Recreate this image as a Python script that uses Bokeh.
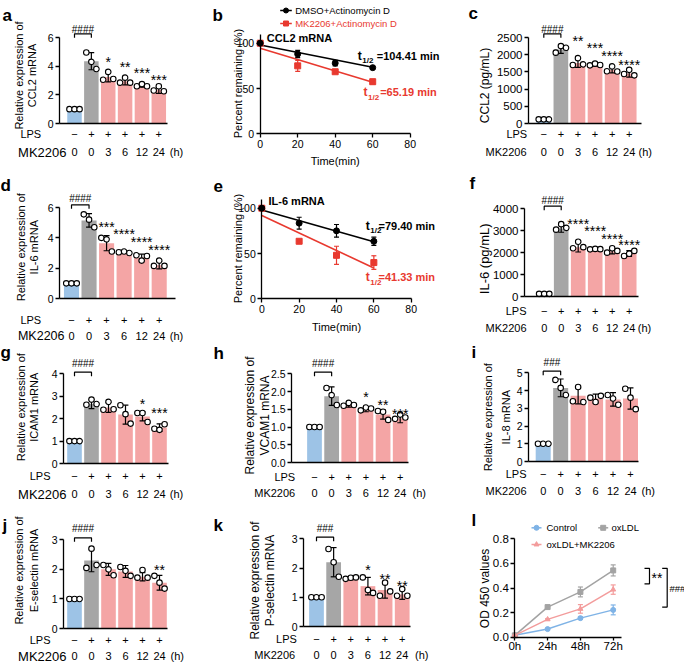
import math
from bokeh.plotting import figure
from bokeh.layouts import column, row
from bokeh.models import Label, Range1d, NumeralTickFormatter
from bokeh.embed import file_html
from bokeh.resources import INLINE

FONT = "Liberation Sans"

# ======================= DATA =======================
mk2206_hours = ["0", "0", "3", "6", "12", "24"]
lps_marks = ["\u2212", "+", "+", "+", "+", "+"]

# a  CCL2 mRNA
a_mean = [1.00, 4.35, 3.25, 2.95, 2.65, 2.35]
a_sd = [0.02, 0.60, 0.35, 0.25, 0.12, 0.25]
a_pts = [[1.0, 1.0, 1.0], [4.95, 4.30, 3.80], [3.05, 3.60, 3.10], [2.85, 3.20, 2.85], [2.60, 2.75, 2.60], [2.30, 2.60, 2.25]]
a_sig = ["", "", "*", "**", "***", "***"]
a_hash = "####"
a_yticks = [0, 2, 4, 6]

# c  CCL2 protein
c_mean = [120, 2150, 1760, 1710, 1560, 1450]
c_sd = [10, 110, 130, 40, 90, 100]
c_pts = [[120, 120, 120], [2060, 2250, 2200], [1700, 1900, 1720], [1690, 1740, 1700], [1520, 1660, 1510], [1440, 1560, 1400]]
c_sig = ["", "", "**", "***", "****", "****"]
c_hash = "####"
c_yticks = [0, 500, 1000, 1500, 2000, 2500]

# d  IL-6 mRNA
d_mean = [1.00, 5.15, 3.65, 3.05, 2.70, 2.20]
d_sd = [0.02, 0.45, 0.50, 0.08, 0.22, 0.25]
d_pts = [[1.0, 1.0, 1.0], [5.55, 5.20, 4.70], [4.00, 3.90, 3.10], [3.05, 3.10, 3.00], [2.85, 2.50, 2.80], [2.15, 2.50, 2.15]]
d_sig = ["", "", "***", "****", "****", "****"]
d_hash = "####"
d_yticks = [0, 2, 4, 6]

# f  IL-6 protein
f_mean = [120, 3100, 2250, 2160, 2060, 1960]
f_sd = [15, 170, 220, 25, 120, 130]
f_pts = [[120, 120, 120], [3050, 3300, 3130], [2200, 2500, 2250], [2150, 2170, 2160], [2000, 2200, 2080], [1850, 1950, 2080]]
f_sig = ["", "", "****", "****", "****", "****"]
f_hash = "####"
f_yticks = [0, 1000, 2000, 3000, 4000]

# g  ICAM1 mRNA
g_mean = [1.00, 2.65, 2.50, 2.18, 2.10, 1.60]
g_sd = [0.02, 0.20, 0.22, 0.42, 0.20, 0.17]
g_pts = [[1.0, 1.0, 1.0], [2.62, 2.85, 2.65], [2.40, 2.75, 2.42], [2.60, 2.20, 1.78], [2.25, 2.25, 1.85], [1.55, 1.50, 1.75]]
g_sig = ["", "", "", "", "*", "***"]
g_hash = "####"
g_yticks = [0, 1, 2, 3, 4]

# h  VCAM1 mRNA
h_mean = [1.00, 1.87, 1.62, 1.50, 1.35, 1.25]
h_sd = [0.01, 0.26, 0.06, 0.07, 0.13, 0.13]
h_pts = [[1.0, 1.0, 1.0], [2.10, 1.90, 1.62], [1.60, 1.68, 1.62], [1.47, 1.55, 1.52], [1.45, 1.43, 1.20], [1.23, 1.35, 1.27]]
h_sig = ["", "", "", "*", "**", "***"]
h_hash = "####"
h_yticks = [0.0, 0.5, 1.0, 1.5, 2.0, 2.5]

# i  IL-8 mRNA
i_mean = [1.00, 4.15, 3.70, 3.55, 3.50, 3.55]
i_sd = [0.02, 0.50, 0.45, 0.25, 0.38, 0.60]
i_pts = [[1.0, 1.0, 1.0], [4.60, 4.15, 3.75], [3.40, 4.20, 3.35], [3.60, 3.35, 3.70], [3.75, 3.55, 3.20], [4.10, 3.60, 2.95]]
i_sig = ["", "", "", "", "", ""]
i_hash = "###"
i_yticks = [0, 1, 2, 3, 4, 5]

# j  E-selectin mRNA
j_mean = [1.00, 2.30, 2.00, 1.93, 1.75, 1.55]
j_sd = [0.01, 0.38, 0.20, 0.20, 0.14, 0.25]
j_pts = [[1.0, 1.0, 1.0], [2.05, 2.70, 2.15], [2.15, 2.00, 1.80], [2.08, 1.95, 1.78], [1.72, 1.98, 1.72], [1.78, 1.55, 1.35]]
j_sig = ["", "", "", "", "", "**"]
j_hash = "####"
j_yticks = [0, 1, 2, 3]

# k  P-selectin mRNA
k_mean = [1.00, 2.20, 1.65, 1.38, 1.25, 1.10]
k_sd = [0.01, 0.50, 0.05, 0.30, 0.28, 0.17]
k_pts = [[1.0, 1.0, 1.0], [2.65, 2.20, 1.70], [1.63, 1.67, 1.68], [1.68, 1.25, 1.15], [1.05, 1.50, 1.20], [1.05, 1.28, 1.05]]
k_sig = ["", "", "", "*", "**", "**"]
k_hash = "###"
k_yticks = [0, 1, 2, 3]

# b / e  mRNA decay
decay_time = [0, 20, 40, 60]
fit_time = [0, 60]
b_dmso = [100, 88, 78, 73]
b_dmso_err = [0, 4, 3, 1.5]
b_mk = [100, 75, 68.5, 57.5]
b_mk_err = [0, 6, 1.5, 2.5]
b_dmso_fit = [98, 73.5]
b_mk_fit = [94.5, 57]
b_half = ["104.41", "65.19"]
e_dmso = [100, 83.5, 75, 63.5]
e_dmso_err = [0, 6.5, 7, 4.5]
e_mk = [100, 63.5, 48, 40]
e_mk_err = [0, 0, 10, 7.5]
e_dmso_fit = [98, 63]
e_mk_fit = [92, 34]
e_half = ["79.40", "41.33"]

# l  OD450
od_time = [0, 24, 48, 72]
od_tick_labels = ["0h", "24h", "48h", "72h"]
od_control = [0.015, 0.066, 0.155, 0.222]
od_control_err = [0.003, 0.006, 0.010, 0.040]
od_oxldl = [0.015, 0.245, 0.368, 0.543]
od_oxldl_err = [0.003, 0.008, 0.040, 0.045]
od_mk = [0.015, 0.145, 0.230, 0.387]
od_mk_err = [0.003, 0.006, 0.035, 0.038]

# ======================= STYLE / LAYOUT =======================
BAR_COLORS = ["#9dc3e6", "#a6a6a6", "#f4a5a5", "#f4a5a5", "#f4a5a5", "#f4a5a5"]
RED = "#e8392f"
C_BLUE = "#7fb3e6"
C_GRAY = "#a3a3a3"
C_PINK = "#f39c9c"

COLS = [(0, 208), (208, 254), (462, 222)]
ROWS = [(0, 170), (170, 172), (342, 160), (502, 160)]


def txt(p, x, y, s, fs="11px", align="center", base="middle", bold=False, color="black", angle=0.0):
    p.add_layout(Label(x=x, y=y, text=s, text_font=FONT, text_font_size=fs, text_align=align,
                       text_baseline=base, text_font_style="bold" if bold else "normal",
                       text_color=color, angle=angle))


def style_axes(p, fs):
    for ax in (p.xaxis[0], p.yaxis[0]):
        ax.axis_line_width = 1.3
        ax.axis_line_color = "black"
        ax.major_tick_line_width = 1.3
        ax.major_tick_line_color = "black"
        ax.major_tick_out = 4
        ax.major_tick_in = 0
        ax.minor_tick_line_color = None
        ax.major_label_text_font = FONT
        ax.major_label_text_font_size = fs
        ax.major_label_text_color = "black"
        ax.major_label_standoff = 2


def make_fig(col, rw, ax_px, ay_px, ppx, ppy):
    """Whole canvas is the frame; (ax_px, ay_px) is the page pixel of data (0, 0)."""
    cx, cw = COLS[col]
    ry, rh = ROWS[rw]
    X = lambda px: (px - ax_px) / ppx
    Y = lambda py: (ay_px - py) / ppy
    p = figure(width=cw, height=rh, x_range=Range1d(X(cx), X(cx + cw)), y_range=Range1d(Y(ry + rh), Y(ry)),
               min_border=0, output_backend="svg", toolbar_location=None, tools="")
    p.xgrid.visible = False
    p.ygrid.visible = False
    p.outline_line_color = None
    return p, X, Y


def legend_entry(p, X, Y, x0, x1, cy, tx, label, colr, marker, tcolor, fs="9.5px", msize=5.5):
    p.line(x=[X(x0), X(x1)], y=[Y(cy), Y(cy)], line_color=colr, line_width=1.5)
    p.scatter(x=[X((x0 + x1) / 2)], y=[Y(cy)], marker=marker, size=msize, fill_color=colr, line_color=colr)
    txt(p, X(tx), Y(cy), label, fs=fs, align="left", color=tcolor)


def bar_panel(Lo, letter, mean, sd, pts, sig, hash_txt, yticks, ylabel, tick_fs, fmt=None):
    sp = (Lo["c5"] - Lo["c0"]) / 5.0
    ppy = (Lo["y0"] - Lo["yt"]) / yticks[-1]
    p, X, Y = make_fig(Lo["col"], Lo["row"], Lo["c0"], Lo["y0"], sp, ppy)
    cats = list(range(len(mean)))
    p.vbar(x=cats, top=mean, width=0.86, fill_color=BAR_COLORS, line_color=None)
    lo = [m - s for m, s in zip(mean, sd)]
    hi = [m + s for m, s in zip(mean, sd)]
    cw = 0.17
    p.segment(x0=cats, y0=lo, x1=cats, y1=hi, line_color="black", line_width=1.2)
    p.segment(x0=[c - cw for c in cats], y0=hi, x1=[c + cw for c in cats], y1=hi, line_color="black", line_width=1.2)
    p.segment(x0=[c - cw for c in cats], y0=lo, x1=[c + cw for c in cats], y1=lo, line_color="black", line_width=1.2)
    px_, py_ = [], []
    for c, trio in zip(cats, pts):
        for off, v in zip((-0.3, 0.0, 0.3), trio):
            px_.append(c + off)
            py_.append(v)
    p.scatter(px_, py_, marker="circle", size=5.5, fill_color="white", line_color="black", line_width=1.1)
    style_axes(p, tick_fs)
    p.xaxis.ticker = []
    p.xaxis.fixed_location = 0
    p.xaxis.bounds = (X(Lo["fl"]), X(Lo["fr"]))
    p.yaxis.ticker = yticks
    p.yaxis.fixed_location = X(Lo["fl"])
    p.yaxis.bounds = (0, yticks[-1])
    if fmt:
        p.yaxis.formatter = NumeralTickFormatter(format=fmt)
    for c, s, sy in zip(cats, sig, Lo["sig_y"]):
        if s and sy is not None:
            txt(p, c, Y(sy + 3), s, fs="14px")
    b = Lo["brk"]
    p.line(x=[0, 0, 1, 1], y=[Y(b + 4), Y(b), Y(b), Y(b + 4)], line_color="black", line_width=1.2)
    txt(p, 0.5, Y(Lo["hsh"]), hash_txt, fs="10px")
    for c in cats:
        txt(p, c, Y(Lo["y0"] + Lo["lps_dy"]), lps_marks[c], fs="11px")
        txt(p, c, Y(Lo["y0"] + Lo["mk_dy"]), mk2206_hours[c], fs="11px")
    txt(p, X(Lo["lps_r"]), Y(Lo["y0"] + Lo["lps_dy"]), "LPS", fs="11px", align="right")
    txt(p, X(Lo["mk_r"]), Y(Lo["y0"] + Lo["mk_dy"]), "MK2206", fs=Lo["mk_fs"], align="right")
    txt(p, X(Lo["hx"]), Y(Lo["y0"] + Lo["mk_dy"]), "(h)", fs="11px")
    for line, lx in zip(ylabel, Lo["ylx"]):
        txt(p, X(lx), Y(Lo["yly"]), line, fs=Lo["yls"], angle=math.pi / 2)
    txt(p, X(Lo["let"][0]), Y(Lo["let"][1]), letter, fs="17px", align="left", base="alphabetic", bold=True)
    return p


def decay_panel(Lo, letter, dm, dm_err, mk, mk_err, dm_fit, mk_fit, halves, gene, legend):
    ppx = (Lo["x80"] - Lo["ax"]) / 80.0
    ppy = (Lo["y0"] - Lo["y100"]) / 100.0
    p, X, Y = make_fig(Lo["col"], Lo["row"], Lo["ax"], Lo["y0"], ppx, ppy)
    capw = 2.5 / ppx
    p.line(fit_time, dm_fit, line_color="black", line_width=1.6)
    p.line(fit_time, mk_fit, line_color=RED, line_width=1.6)
    for vals, errs, colr in ((dm, dm_err, "black"), (mk, mk_err, RED)):
        lo = [v - e for v, e in zip(vals, errs)]
        hi = [v + e for v, e in zip(vals, errs)]
        p.segment(x0=decay_time, y0=lo, x1=decay_time, y1=hi, line_color=colr, line_width=1.2)
        p.segment(x0=[t - capw for t in decay_time], y0=hi, x1=[t + capw for t in decay_time], y1=hi, line_color=colr, line_width=1.2)
        p.segment(x0=[t - capw for t in decay_time], y0=lo, x1=[t + capw for t in decay_time], y1=lo, line_color=colr, line_width=1.2)
    p.scatter(decay_time, mk, marker="square", size=6, fill_color=RED, line_color=RED)
    p.scatter(decay_time, dm, marker="circle", size=6, fill_color="black", line_color="black")
    style_axes(p, "10.5px")
    p.xaxis.ticker = [0, 20, 40, 60, 80]
    p.xaxis.fixed_location = 0
    p.xaxis.bounds = (0, 80)
    p.yaxis.ticker = [0, 50, 100]
    p.yaxis.fixed_location = 0
    p.yaxis.bounds = (0, 110)
    txt(p, 40, Y(Lo["y0"] + Lo["time_dy"]), "Time(min)", fs="11px")
    txt(p, X(Lo["ylx"]), Y(Lo["yly"]), "Percent remaining (%)", fs="11px", angle=math.pi / 2)
    txt(p, X(Lo["title"][0]), Y(Lo["title"][1]), gene, fs="11px", align="left", bold=True)
    for (tx, ex, cy), val, colr in zip((Lo["th_black"], Lo["th_red"]), halves, ("black", RED)):
        txt(p, X(tx), Y(cy), "t", fs="12px", align="left", bold=True, color=colr)
        txt(p, X(tx + 4.5), Y(cy + 5), "1/2", fs="8px", align="left", bold=True, color=colr)
        txt(p, X(ex), Y(cy), "=" + val + " min", fs="11px", align="left", bold=True, color=colr)
    txt(p, X(Lo["let"][0]), Y(Lo["let"][1]), letter, fs="17px", align="left", base="alphabetic", bold=True)
    if legend:
        (x0, x1, tx, cy1), (_, _, _, cy2) = Lo["leg"]
        legend_entry(p, X, Y, x0, x1, cy1, tx, "DMSO+Actinomycin D", "black", "circle", "black", msize=5)
        legend_entry(p, X, Y, x0, x1, cy2, tx, "MK2206+Actinomycin D", RED, "square", RED, msize=5)
    return p


def od_panel(Lo, letter):
    ppx = (Lo["x72"] - Lo["ax"]) / 72.0
    ppy = (Lo["y0"] - Lo["y08"]) / 0.8
    p, X, Y = make_fig(Lo["col"], Lo["row"], Lo["ax"], Lo["y0"], ppx, ppy)
    capw = 2.5 / ppx
    series = ((od_control, od_control_err, C_BLUE, "circle"),
              (od_oxldl, od_oxldl_err, C_GRAY, "square"),
              (od_mk, od_mk_err, C_PINK, "triangle"))
    for vals, errs, colr, mark in series:
        p.line(od_time, vals, line_color=colr, line_width=1.5)
        lo = [v - e for v, e in zip(vals, errs)]
        hi = [v + e for v, e in zip(vals, errs)]
        p.segment(x0=od_time, y0=lo, x1=od_time, y1=hi, line_color=colr, line_width=1.2)
        p.segment(x0=[t - capw for t in od_time], y0=hi, x1=[t + capw for t in od_time], y1=hi, line_color=colr, line_width=1.2)
        p.segment(x0=[t - capw for t in od_time], y0=lo, x1=[t + capw for t in od_time], y1=lo, line_color=colr, line_width=1.2)
        p.scatter(od_time, vals, marker=mark, size=5, fill_color=colr, line_color=colr)
    style_axes(p, "11.5px")
    p.xaxis.ticker = od_time
    p.xaxis.major_label_overrides = {t: s for t, s in zip(od_time, od_tick_labels)}
    p.xaxis.fixed_location = 0
    p.xaxis.bounds = (0, 78)
    p.xaxis.major_tick_out = 3
    p.xaxis.major_label_standoff = 0
    p.yaxis.ticker = [0, 0.2, 0.4, 0.6, 0.8]
    p.yaxis.formatter = NumeralTickFormatter(format="0.0")
    p.yaxis.fixed_location = 0
    p.yaxis.bounds = (0, 0.8)
    for bx, top, bot in Lo["brackets"]:
        p.line(x=[X(bx - 5), X(bx), X(bx), X(bx - 5)], y=[top, top, bot, bot], line_color="black", line_width=1.2)
    txt(p, X(Lo["stars"][0]), Lo["stars"][1], "**", fs="14px", align="left")
    txt(p, X(Lo["hash"][0]), Lo["hash"][1], "###", fs="9.5px", align="left")
    txt(p, X(Lo["ylx"]), Y(Lo["yly"]), "OD 450 values", fs="12px", angle=math.pi / 2)
    txt(p, X(Lo["let"][0]), Y(Lo["let"][1]), letter, fs="17px", align="left", base="alphabetic", bold=True)
    for (vals, errs, colr, mark), lab, (x0, x1, tx, cy) in zip(series, ("Control", "oxLDL", "oxLDL+MK2206"), Lo["leg"]):
        legend_entry(p, X, Y, x0, x1, cy, tx, lab, colr, mark, "black", msize=5)
    return p


LA = dict(col=0, row=0, fl=59, fr=167, y0=123, yt=37, c0=74, c5=158.3, ylx=[18.3, 31.7], yly=75, yls="11px",
          lps_dy=10, mk_dy=28.7, lps_r=40.7, mk_r=66, mk_fs="13px", hx=176, let=(2, 15), brk=33.3, hsh=28.7,
          sig_y=[None, None, 58.3, 63.3, 69.3, 76])
LC = dict(col=2, row=0, fl=528, fr=641, y0=123, yt=37, c0=543.3, c5=628.7, ylx=[484.3], yly=85, yls="12px",
          lps_dy=10, mk_dy=28.4, lps_r=526.7, mk_r=526, mk_fs="11px", hx=644.7, let=(468, 13.3), brk=33.3, hsh=29,
          sig_y=[None, None, 37.3, 44.3, 52.7, 61])
LD = dict(col=0, row=1, fl=59, fr=175, y0=298, yt=207, c0=71, c5=158.7, ylx=[20, 33.3], yly=246.7, yls="11px",
          lps_dy=21, mk_dy=37.5, lps_r=40.7, mk_r=64, mk_fs="12.5px", hx=176, let=(0, 185), brk=204.3, hsh=198.3,
          sig_y=[None, None, 223.3, 230.7, 238.3, 246])
LF = dict(col=2, row=1, fl=524, fr=638, y0=296, yt=208.3, c0=543.7, c5=628.7, ylx=[484.3], yly=258.3, yls="13px",
          lps_dy=14.3, mk_dy=31.7, lps_r=526, mk_r=526, mk_fs="11px", hx=644, let=(469, 183.3), brk=205.7, hsh=200,
          sig_y=[None, None, 220, 227.7, 235, 241])
LG = dict(col=0, row=2, fl=63, fr=168.3, y0=463, yt=373.3, c0=74, c5=159, ylx=[20, 33.3], yly=406.7, yls="11px",
          lps_dy=12.3, mk_dy=30.7, lps_r=50, mk_r=66, mk_fs="13px", hx=176, let=(0, 352), brk=371.7, hsh=363.3,
          sig_y=[None, None, None, None, 400, 409])
LH = dict(col=1, row=2, fl=291, fr=408, y0=462, yt=373.3, c0=314, c5=399.7, ylx=[249.7, 264.7], yly=415, yls="12px",
          lps_dy=14, mk_dy=30.7, lps_r=294.7, mk_r=294.7, mk_fs="11px", hx=418.7, let=(213, 352.7), brk=371.7, hsh=363.3,
          sig_y=[None, None, None, 393.3, 401.7, 410])
LI = dict(col=2, row=2, fl=528, fr=637.7, y0=461, yt=372.3, c0=542.7, c5=630, ylx=[487.7, 505.3], yly=416.7, yls="11px",
          lps_dy=12, mk_dy=29.3, lps_r=526, mk_r=526, mk_fs="11px", hx=647.7, let=(471, 351.7), brk=370.7, hsh=361.7,
          sig_y=[None] * 6)
LJ = dict(col=0, row=3, fl=63, fr=166.7, y0=628, yt=539.3, c0=74, c5=159, ylx=[18.3, 33.3], yly=570, yls="11px",
          lps_dy=11.3, mk_dy=27.5, lps_r=50, mk_r=66, mk_fs="13px", hx=176.7, let=(2, 525), brk=537.3, hsh=528.3,
          sig_y=[None, None, None, None, None, 566.7])
LK = dict(col=1, row=3, fl=303, fr=409.7, y0=626, yt=538.3, c0=316, c5=401.7, ylx=[254.7, 269.7], yly=580, yls="12px",
          lps_dy=12, mk_dy=28.5, lps_r=296.3, mk_r=294.7, mk_fs="11px", hx=421.3, let=(213, 525), brk=536.7, hsh=528.3,
          sig_y=[None, None, None, 566.7, 575, 582.3])
LB = dict(col=1, row=0, ax=259.7, x80=409.7, y0=133.3, y100=42.7, ylx=237, yly=83, time_dy=27,
          title=(266.3, 37.3), th_black=(357.3, 376.3, 55), th_red=(363, 379.7, 91.7), let=(212, 15),
          leg=[(279.7, 291.3, 294.7, 10), (279.7, 291.3, 294.7, 23)])
LE = dict(col=1, row=1, ax=261.3, x80=410.7, y0=298.3, y100=207.7, ylx=237, yly=248, time_dy=28.4,
          title=(268, 200), th_black=(365.3, 378, 225), th_red=(365.3, 378, 276.7), let=(213, 185))
LL = dict(col=2, row=3, ax=514.3, x72=612.7, y0=636.7, y08=538.3, ylx=484.3, yly=588, let=(471, 520),
          brackets=[(649, 0.56, 0.434), (666.7, 0.56, 0.245)], stars=(651, 0.485), hash=(669, 0.40),
          leg=[(531, 541, 546, 527.3), (597.7, 607.7, 611, 527.3), (531, 541, 546, 544)])

pa = bar_panel(LA, "a", a_mean, a_sd, a_pts, a_sig, a_hash, a_yticks, ["Relative expression of", "CCL2 mRNA"], "10.5px")
pb = decay_panel(LB, "b", b_dmso, b_dmso_err, b_mk, b_mk_err, b_dmso_fit, b_mk_fit, b_half, "CCL2 mRNA", True)
pc = bar_panel(LC, "c", c_mean, c_sd, c_pts, c_sig, c_hash, c_yticks, ["CCL2 (pg/mL)"], "11.5px")
pd = bar_panel(LD, "d", d_mean, d_sd, d_pts, d_sig, d_hash, d_yticks, ["Relative expression of", "IL-6 mRNA"], "10.5px")
pe = decay_panel(LE, "e", e_dmso, e_dmso_err, e_mk, e_mk_err, e_dmso_fit, e_mk_fit, e_half, "IL-6 mRNA", False)
pf = bar_panel(LF, "f", f_mean, f_sd, f_pts, f_sig, f_hash, f_yticks, ["IL-6 (pg/mL)"], "11.5px")
pg = bar_panel(LG, "g", g_mean, g_sd, g_pts, g_sig, g_hash, g_yticks, ["Relative expression of", "ICAM1 mRNA"], "10.5px")
ph = bar_panel(LH, "h", h_mean, h_sd, h_pts, h_sig, h_hash, h_yticks, ["Relative expression of", "VCAM1 mRNA"], "10.5px", fmt="0.0")
pi_ = bar_panel(LI, "i", i_mean, i_sd, i_pts, i_sig, i_hash, i_yticks, ["Relative expression of", "IL-8 mRNA"], "10.5px")
pj = bar_panel(LJ, "j", j_mean, j_sd, j_pts, j_sig, j_hash, j_yticks, ["Relative expression of", "E-selectin mRNA"], "10.5px")
pk = bar_panel(LK, "k", k_mean, k_sd, k_pts, k_sig, k_hash, k_yticks, ["Relative expression of", "P-selectin mRNA"], "10.5px")
pl = od_panel(LL, "l")

layout = column(row(pa, pb, pc), row(pd, pe, pf), row(pg, ph, pi_), row(pj, pk, pl))
open("out.html", "w").write(file_html(layout, INLINE))
